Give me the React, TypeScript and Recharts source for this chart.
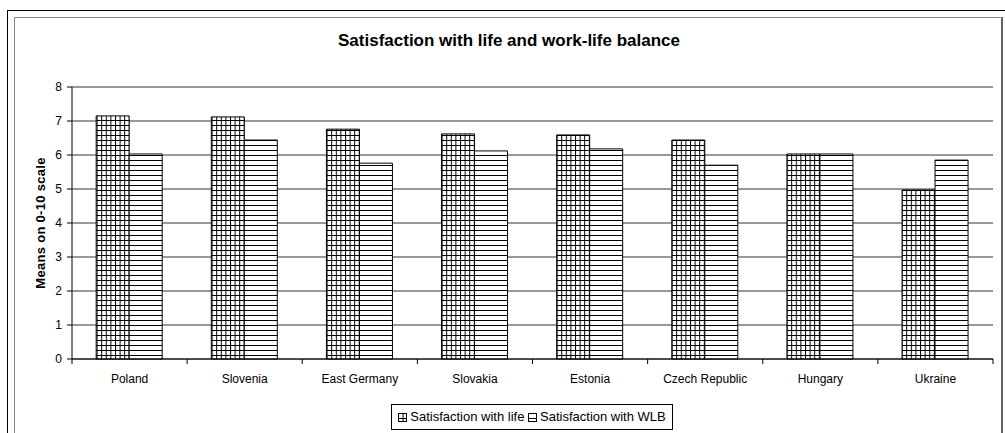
import { BarChart, Bar, XAxis, YAxis, CartesianGrid, ReferenceLine } from "recharts";

const countries = [
  "Poland",
  "Slovenia",
  "East Germany",
  "Slovakia",
  "Estonia",
  "Czech Republic",
  "Hungary",
  "Ukraine",
];
const lifeValues = [7.15, 7.12, 6.76, 6.62, 6.59, 6.44, 6.03, 4.97];
const wlbValues = [6.03, 6.44, 5.76, 6.12, 6.18, 5.7, 6.03, 5.85];
const yTicks = [0, 1, 2, 3, 4, 5, 6, 7, 8];

const data = countries.map((name, i) => ({
  name,
  life: lifeValues[i],
  wlb: wlbValues[i],
}));

const font = "'Liberation Sans', Arial, sans-serif";

function CategoryTick(props: any) {
  const { x, y, payload, index } = props;
  const half = payload.offset || 0;
  return (
    <g>
      <line x1={x - half} y1={y} x2={x - half} y2={y + 5} stroke="#000" />
      {index === countries.length - 1 && (
        <line x1={x + half} y1={y} x2={x + half} y2={y + 5} stroke="#000" />
      )}
      <text x={x} y={y + 24} textAnchor="middle" fontSize={12} fontFamily={font} fill="#000">
        {payload.value}
      </text>
    </g>
  );
}

function Patterns() {
  return (
    <defs>
      <pattern id="gridFill" width="4.6" height="5" patternUnits="userSpaceOnUse">
        <rect width="4.6" height="5" fill="#fff" />
        <line x1="0.5" y1="0" x2="0.5" y2="5" stroke="#000" strokeWidth="1" />
        <line x1="0" y1="0.5" x2="4.6" y2="0.5" stroke="#000" strokeWidth="1" />
      </pattern>
      <pattern id="lineFill" width="5" height="5" patternUnits="userSpaceOnUse">
        <rect width="5" height="5" fill="#fff" />
        <line x1="0" y1="0.5" x2="5" y2="0.5" stroke="#000" strokeWidth="1" />
      </pattern>
    </defs>
  );
}

function LegendIcon({ fill }: { fill: string }) {
  return (
    <svg width={9} height={9} style={{ marginRight: 3, verticalAlign: "-1px" }}>
      <rect x={0.5} y={0.5} width={8} height={8} fill={fill} stroke="#000" />
    </svg>
  );
}

export default function App() {
  return (
    <div style={{ position: "absolute", left: 0, top: 0, width: 1005, height: 433, background: "#fff", overflow: "hidden" }}>
      <div style={{ position: "absolute", left: 7, top: 10, width: 1010, height: 440, border: "1px solid #000" }} />
      <div
        style={{
          position: "absolute",
          left: 14,
          top: 17,
          width: 986,
          height: 440,
          borderTop: "1px solid #888",
          borderLeft: "1px solid #888",
          borderRight: "2px solid #666",
        }}
      />
      <div
        style={{
          position: "absolute",
          left: 0,
          top: 31,
          width: 1018,
          textAlign: "center",
          fontFamily: font,
          fontWeight: "bold",
          fontSize: 17,
        }}
      >
        Satisfaction with life and work-life balance
      </div>
      <div style={{ position: "absolute", left: 0, top: 0 }}>
        <BarChart
          width={1005}
          height={433}
          data={data}
          margin={{ top: 87, right: 12, left: 0, bottom: 44 }}
          barCategoryGap="21%"
          barGap={0}
        >
          <Patterns />
          <CartesianGrid vertical={false} stroke="#333" />
          <XAxis
            dataKey="name"
            height={30}
            tickLine={false}
            tickSize={0}
            tickMargin={0}
            axisLine={{ stroke: "#000" }}
            tick={<CategoryTick />}
            interval={0}
          />
          <YAxis
            domain={[0, 8]}
            ticks={yTicks}
            width={72}
            tickSize={5}
            tickMargin={5}
            axisLine={{ stroke: "#000" }}
            tickLine={{ stroke: "#000" }}
            tick={{ fontSize: 12, fontFamily: font, fill: "#000" }}
            label={{
              value: "Means on 0-10 scale",
              angle: -90,
              position: "insideLeft",
              offset: 40,
              style: {
                fontSize: 13,
                fontWeight: "bold",
                fontFamily: font,
                fill: "#000",
                textAnchor: "middle",
                letterSpacing: 0.3,
              },
            }}
          />
          <YAxis yAxisId="right" orientation="right" width={0} tick={false} tickLine={false} axisLine={{ stroke: "#999" }} />
          <ReferenceLine y={8} stroke="#999" />
          <Bar dataKey="life" fill="url(#gridFill)" stroke="#000" strokeWidth={1} isAnimationActive={false} />
          <Bar dataKey="wlb" fill="url(#lineFill)" stroke="#000" strokeWidth={1} isAnimationActive={false} />
        </BarChart>
      </div>
      <div
        style={{
          position: "absolute",
          left: 391,
          top: 404,
          width: 280,
          height: 24,
          border: "1px solid #000",
          fontFamily: font,
          fontSize: 13,
          lineHeight: "24px",
          textAlign: "center",
          whiteSpace: "nowrap",
        }}
      >
        <LegendIcon fill="url(#gridFill)" />
        Satisfaction with life <LegendIcon fill="url(#lineFill)" />
        Satisfaction with WLB
      </div>
    </div>
  );
}
